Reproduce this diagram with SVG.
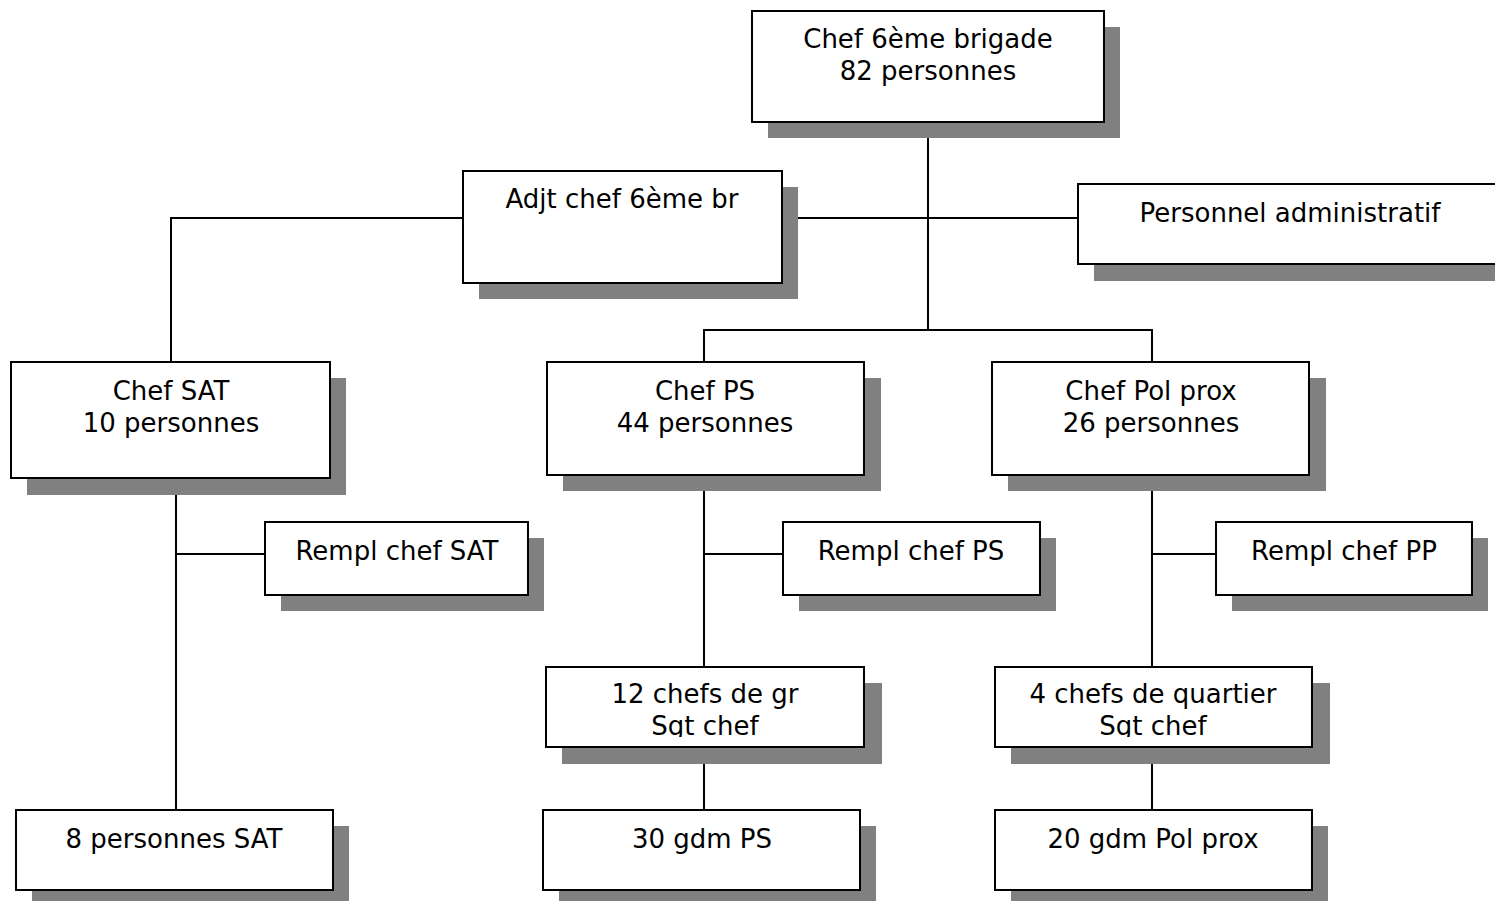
<svg xmlns="http://www.w3.org/2000/svg" width="1495" height="901" viewBox="0 0 1495 901">
<style>
.sh{fill:#808080}
.bx{fill:#fff;stroke:#000;stroke-width:2}
.t{font-family:"DejaVu Sans",Verdana,sans-serif;font-size:26px;fill:#000;text-anchor:middle}
.ln{fill:none;stroke:#000;stroke-width:2}
</style>
<defs>
<clipPath id="c1"><rect x="547" y="668" width="316" height="69"/></clipPath>
<clipPath id="c2"><rect x="996" y="668" width="315" height="69"/></clipPath>
</defs>
<rect width="1495" height="901" fill="#fff"/>
<g id="connectors">
<path class="ln" d="M928 122V330M704 362V330H1152V362M171 362V218H1078M176 478V810M176 554H265M704 475V667M704 554H783M704 747V810M1152 475V667M1152 554H1216M1152 747V810"/>
</g>
<g id="n-chef6">
<rect class="sh" x="768" y="27" width="352" height="111"/>
<rect class="bx" x="752" y="11" width="352" height="111"/>
<text class="t" x="928" y="48">Chef 6ème brigade</text>
<text class="t" x="928" y="80">82 personnes</text>
</g>
<g id="n-adjt">
<rect class="sh" x="479" y="187" width="319" height="112"/>
<rect class="bx" x="463" y="171" width="319" height="112"/>
<text class="t" x="622" y="208">Adjt chef 6ème br</text>
</g>
<g id="n-admin">
<rect class="sh" x="1094" y="200" width="420" height="81"/>
<rect class="bx" x="1078" y="184" width="424" height="80"/>
<text class="t" x="1290" y="222">Personnel administratif</text>
</g>
<g id="n-sat">
<rect class="sh" x="27" y="378" width="319" height="117"/>
<rect class="bx" x="11" y="362" width="319" height="116"/>
<text class="t" x="171" y="400">Chef SAT</text>
<text class="t" x="171" y="432">10 personnes</text>
</g>
<g id="n-ps">
<rect class="sh" x="563" y="378" width="318" height="113"/>
<rect class="bx" x="547" y="362" width="317" height="113"/>
<text class="t" x="705" y="400">Chef PS</text>
<text class="t" x="705" y="432">44 personnes</text>
</g>
<g id="n-pp">
<rect class="sh" x="1008" y="378" width="318" height="113"/>
<rect class="bx" x="992" y="362" width="317" height="113"/>
<text class="t" x="1151" y="400">Chef Pol prox</text>
<text class="t" x="1151" y="432">26 personnes</text>
</g>
<g id="n-rsat">
<rect class="sh" x="281" y="538" width="263" height="73"/>
<rect class="bx" x="265" y="522" width="263" height="73"/>
<text class="t" x="397" y="560">Rempl chef SAT</text>
</g>
<g id="n-rps">
<rect class="sh" x="799" y="538" width="257" height="73"/>
<rect class="bx" x="783" y="522" width="257" height="73"/>
<text class="t" x="911" y="560">Rempl chef PS</text>
</g>
<g id="n-rpp">
<rect class="sh" x="1232" y="538" width="256" height="73"/>
<rect class="bx" x="1216" y="522" width="256" height="73"/>
<text class="t" x="1344" y="560">Rempl chef PP</text>
</g>
<g id="n-12chefs">
<rect class="sh" x="562" y="683" width="320" height="81"/>
<rect class="bx" x="546" y="667" width="318" height="80"/>
<g clip-path="url(#c1)">
<text class="t" x="705" y="703">12 chefs de gr</text>
<text class="t" x="705" y="735">Sgt chef</text>
</g>
</g>
<g id="n-4chefs">
<rect class="sh" x="1011" y="683" width="319" height="81"/>
<rect class="bx" x="995" y="667" width="317" height="80"/>
<g clip-path="url(#c2)">
<text class="t" x="1153" y="703">4 chefs de quartier</text>
<text class="t" x="1153" y="735">Sgt chef</text>
</g>
</g>
<g id="n-8sat">
<rect class="sh" x="32" y="826" width="317" height="75"/>
<rect class="bx" x="16" y="810" width="317" height="80"/>
<text class="t" x="174" y="848">8 personnes SAT</text>
</g>
<g id="n-30ps">
<rect class="sh" x="559" y="826" width="317" height="75"/>
<rect class="bx" x="543" y="810" width="317" height="80"/>
<text class="t" x="702" y="848">30 gdm PS</text>
</g>
<g id="n-20pp">
<rect class="sh" x="1011" y="826" width="317" height="75"/>
<rect class="bx" x="995" y="810" width="317" height="80"/>
<text class="t" x="1153" y="848">20 gdm Pol prox</text>
</g>
</svg>
